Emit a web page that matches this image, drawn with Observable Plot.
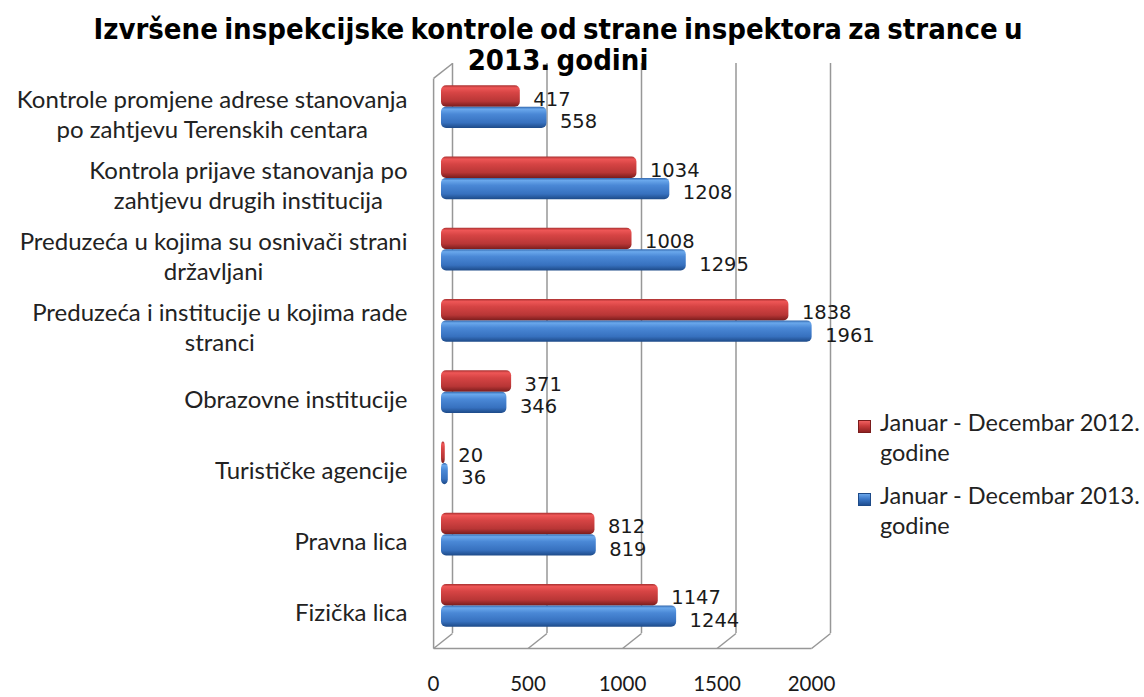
<!DOCTYPE html>
<html><head><meta charset="utf-8">
<script src="https://cdn.jsdelivr.net/npm/d3@7"></script>
<script src="https://cdn.jsdelivr.net/npm/@observablehq/plot@0.6"></script>
<style>
body{margin:0;background:#fff;}
#wrap{position:relative;width:1144px;height:697px;overflow:hidden;background:#fff}
#title{position:absolute;left:0;top:14px;width:1116px;text-align:center;z-index:2;color:#000}
#title div{font-family:"DejaVu Sans";font-weight:bold;font-size:28px;line-height:31px;white-space:nowrap;transform-origin:50% 50%;word-spacing:-3px}
#legend{position:absolute;left:858px;top:407px;font-family:Lato;font-size:23.5px;line-height:30px;color:#222;z-index:2}
.item{position:relative;padding-left:22px;margin-bottom:13px;white-space:nowrap}
.sw{position:absolute;left:0;top:13px;width:13px;height:13px;box-sizing:border-box}
</style></head>
<body><div id="wrap"><div id="title"></div><div id="legend"></div></div>
<script>
const titleText = "Izvršene inspekcijske kontrole od strane inspektora za strance u\n2013. godini";
const categories = [
  "Kontrole promjene adrese stanovanja\npo zahtjevu Terenskih centara",
  "Kontrola prijave stanovanja po\nzahtjevu drugih institucija",
  "Preduzeća u kojima su osnivači strani\ndržavljani",
  "Preduzeća i institucije u kojima rade\nstranci",
  "Obrazovne institucije",
  "Turističke agencije",
  "Pravna lica",
  "Fizička lica"
];
const values2012 = [417, 1034, 1008, 1838, 371, 20, 812, 1147];
const values2013 = [558, 1208, 1295, 1961, 346, 36, 819, 1244];
const seriesNames = ["Januar - Decembar 2012.\ngodine", "Januar - Decembar 2013.\ngodine"];
const xTicks = [0, 500, 1000, 1500, 2000];

const data2012 = categories.map((c, i) => ({cat: c, i, value: values2012[i]}));
const data2013 = categories.map((c, i) => ({cat: c, i, value: values2013[i]}));
const n = categories.length;
const depthX = -100, depthY = 0.21;
const grid = "#979797";

// title (condensed to the reference width)
const titleEl = document.getElementById("title");
titleEl.innerHTML = titleText.split("\n").map(l => `<div>${l}</div>`).join("");
const lines = titleEl.querySelectorAll("div");
const rng = document.createRange(); rng.selectNodeContents(lines[0]);
const sx = 929 / Math.max(1, rng.getBoundingClientRect().width);
lines.forEach(d => d.style.transform = `scaleX(${sx})`);

// legend
const swatches = [
  "linear-gradient(180deg,#f06060 0%,#c83a3a 45%,#8e2222 100%)",
  "linear-gradient(180deg,#6aa6ea 0%,#3b78c8 45%,#1f4f92 100%)"
];
const borders = ["#7a1c1c", "#1d4a88"];
document.getElementById("legend").innerHTML = seriesNames.map((s, k) =>
  `<div class="item"><span class="sw" style="background:${swatches[k]};border:1px solid ${borders[k]}"></span>${s.split("\n").join("<br>")}</div>`).join("");

// measure label widths for centered blocks right-aligned at ~410px
const ctx = document.createElement("canvas").getContext("2d");
ctx.font = "24px Lato";
const labelMarks = categories.map((c, i) => {
  const maxW = d3.max(c.split("\n"), l => ctx.measureText(l).width);
  return Plot.text([c], {
    x: () => 0, y: () => i + 0.5, text: d => d,
    textAnchor: "middle", lineHeight: 1.25,
    dx: (407 - 452) - maxW / 2, dy: 14,
    fontFamily: "Lato", fontSize: 24, fill: "#222"
  });
});

const chart = Plot.plot({
  width: 1144, height: 697,
  marginLeft: 452, marginRight: 314, marginTop: 63, marginBottom: 64,
  x: {domain: [0, 2000], axis: null},
  y: {domain: [0, n], reverse: true, axis: null},
  style: {background: "transparent"},
  marks: [
    // back wall gridlines
    Plot.ruleX(xTicks, {x: d => d, stroke: grid, strokeWidth: 1.5}),
    // floor diagonals
    Plot.link(xTicks, {x1: d => d, y1: () => n, x2: d => d + depthX, y2: () => n + depthY, stroke: grid, strokeWidth: 1.5}),
    // floor front edge
    Plot.link([0], {x1: () => depthX, y1: () => n + depthY, x2: () => 2000 + depthX, y2: () => n + depthY, stroke: grid, strokeWidth: 1.5}),
    // left wall front edge and top
    Plot.link([0], {x1: () => depthX, y1: () => depthY, x2: () => depthX, y2: () => n + depthY, stroke: grid, strokeWidth: 1.5}),
    Plot.link([0], {x1: () => depthX, y1: () => depthY, x2: () => 0, y2: () => 0, stroke: grid, strokeWidth: 1.5}),
    // bars
    Plot.rectX(data2012, {x1: () => 0, x2: "value", y1: d => d.i + 0.2, y2: d => d.i + 0.5, fill: "url(#gRed)", dx: -11, dy: 8, rx: 5}),
    Plot.rectX(data2013, {x1: () => 0, x2: "value", y1: d => d.i + 0.5, y2: d => d.i + 0.8, fill: "url(#gBlue)", dx: -11, dy: 8, rx: 5}),
    // value labels
    Plot.text(data2012, {x: "value", y: d => d.i + 0.35, text: d => String(d.value), textAnchor: "start", dx: 2, dy: 11, fontFamily: "DejaVu Sans", fontSize: 19.5, fill: "#1a1a1a"}),
    Plot.text(data2013, {x: "value", y: d => d.i + 0.65, text: d => String(d.value), textAnchor: "start", dx: 2, dy: 12, fontFamily: "DejaVu Sans", fontSize: 19.5, fill: "#1a1a1a"}),
    // x tick labels
    Plot.text(xTicks, {x: d => d, y: () => n, text: d => String(d), dx: -19, dy: 51, fontFamily: "Lato", fontSize: 20.5, fill: "#1a1a1a"}),
    ...labelMarks
  ]
});

const defs = d3.select(chart).insert("defs", ":first-child");
function grad(id, stops) {
  const g = defs.append("linearGradient").attr("id", id).attr("x1", 0).attr("y1", 0).attr("x2", 0).attr("y2", 1);
  stops.forEach(([o, c]) => g.append("stop").attr("offset", o).attr("stop-color", c));
}
grad("gRed", [[0, "#a83030"], [0.12, "#ee5656"], [0.35, "#d64444"], [0.75, "#b83636"], [1, "#7a1d1d"]]);
grad("gBlue", [[0, "#2f64aa"], [0.12, "#6aa8ec"], [0.35, "#4a88d6"], [0.75, "#3771bf"], [1, "#1d4a88"]]);

document.getElementById("wrap").appendChild(chart);
</script></body></html>
